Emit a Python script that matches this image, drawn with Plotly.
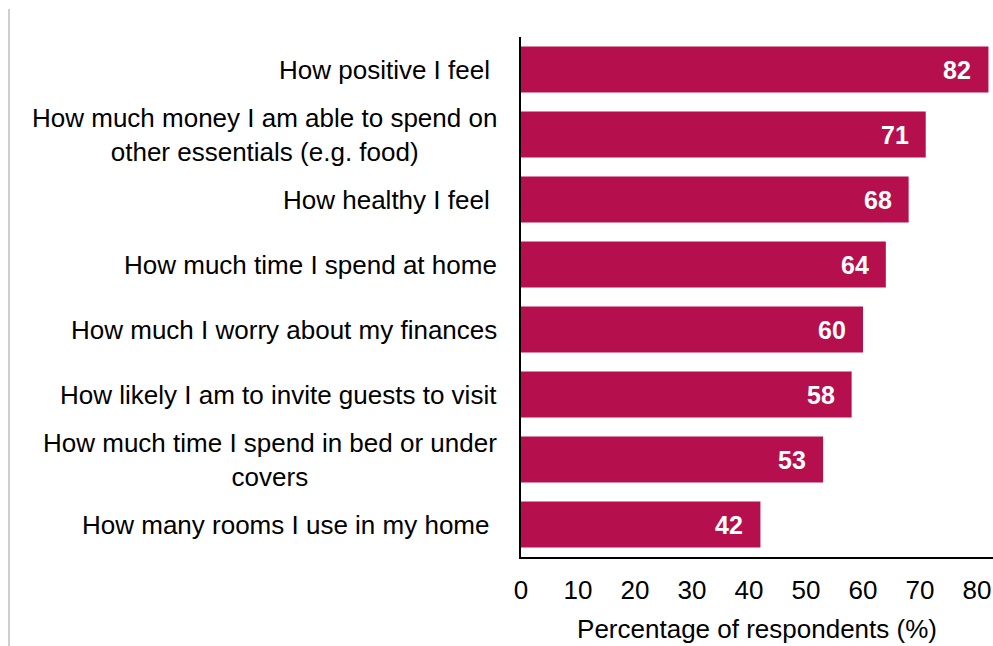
import plotly.graph_objects as go

# Survey items (top to bottom) and share of respondents (%)
categories = [
    "How positive I feel ",
    "How much money I am able to spend on\nother essentials (e.g. food)",
    "How healthy I feel ",
    "How much time I spend at home",
    "How much I worry about my finances",
    "How likely I am to invite guests to visit",
    "How much time I spend in bed or under\ncovers",
    "How many rooms I use in my home ",
]
values = [82, 71, 68, 64, 60, 58, 53, 42]
x_ticks = [0, 10, 20, 30, 40, 50, 60, 70, 80]
x_title = "Percentage of respondents (%)"

BAR_COLOR = "#B60F4E"
FONT = "Liberation Sans, Arial, sans-serif"
FS = 26

W, H = 993, 646
ML, MR, MT, MB = 521, 0, 37, 89
PW, PH = W - ML - MR, H - MT - MB

ids = list(range(len(categories)))

fig = go.Figure(
    go.Bar(
        x=values,
        y=ids,
        orientation="h",
        marker=dict(color=BAR_COLOR, line=dict(width=0)),
        width=0.71,
        hoverinfo="x",
    )
)

annotations = []
# category labels, lines centred within each block
for i, label in enumerate(categories):
    text = label.rstrip(" ").replace("\n", "<br>")
    if label.endswith(" "):
        text += "\u00a0"
    annotations.append(dict(
        x=0, y=i, xref="x", yref="y", text=text, showarrow=False,
        xanchor="right", yanchor="middle", align="center", xshift=-22,
        font=dict(family=FONT, size=FS, color="#000000"),
    ))
# value labels inside the bar ends
for i, v in enumerate(values):
    annotations.append(dict(
        x=v, y=i, xref="x", yref="y", text=f"<b>{v}</b>", showarrow=False,
        xanchor="right", yanchor="middle", xshift=-15,
        font=dict(family=FONT, size=25, color="#FFFFFF"),
    ))

# thin grey rule down the left edge of the canvas
edge_x = (9 - ML) / PW
edge_top = (H - MB - 9) / PH
edge_bottom = (H - MB - H) / PH

fig.update_layout(
    width=W,
    height=H,
    margin=dict(l=ML, r=MR, t=MT, b=MB),
    paper_bgcolor="white",
    plot_bgcolor="white",
    showlegend=False,
    annotations=annotations,
    font=dict(family=FONT, size=FS, color="#000000"),
    shapes=[dict(
        type="line", xref="paper", yref="paper",
        x0=edge_x, x1=edge_x, y0=edge_top, y1=edge_bottom,
        line=dict(color="#BFBFBF", width=1.5),
    )],
)

fig.update_xaxes(
    range=[0, 82.8],
    tickvals=x_ticks,
    ticktext=[str(t) for t in x_ticks],
    showgrid=False,
    zeroline=False,
    showline=True,
    linecolor="#000000",
    linewidth=2,
    ticks="",
    ticklabelstandoff=9,
    tickfont=dict(family=FONT, size=FS, color="#000000"),
    title=dict(text=x_title, font=dict(family=FONT, size=FS, color="#000000"), standoff=16),
    fixedrange=True,
)
fig.update_yaxes(
    range=[len(categories) - 0.5, -0.5],
    showticklabels=False,
    showgrid=False,
    zeroline=False,
    showline=True,
    linecolor="#000000",
    linewidth=2,
    ticks="",
    fixedrange=True,
)

fig.write_html("out.html")
